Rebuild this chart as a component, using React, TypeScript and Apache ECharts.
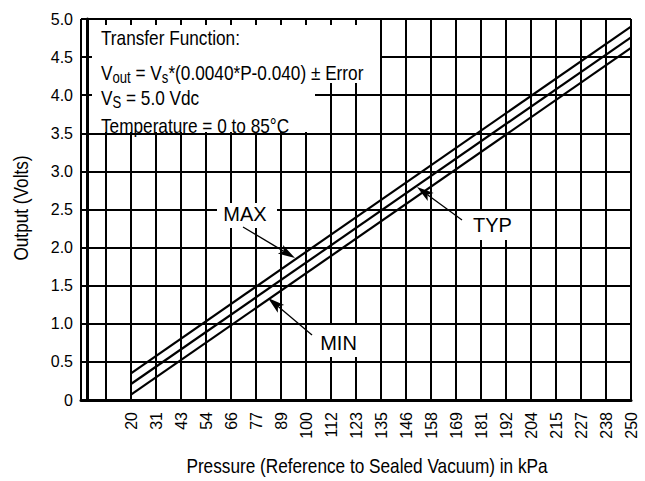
import React, { useEffect, useRef } from "react";
import * as echarts from "echarts";

// ---- data ----
const xTickLabels = ["20", "31", "43", "54", "66", "77", "89", "100", "112", "123", "135", "146", "158", "169", "181", "192", "204", "215", "227", "238", "250"];
const unlabeledLeadingTicks = ["", ""];
const pressure = [20, 250];
const maxOut = [0.35, 4.9];
const typOut = [0.21, 4.76];
const minOut = [0.07, 4.62];
const yMin = 0;
const yMax = 5;
const yStep = 0.5;
const xScaleMin = -3;
const xScaleMax = 250;

const xTitle = "Pressure (Reference to Sealed Vacuum) in kPa";
const yTitle = "Output (Volts)";
const boxLines = {
  l1: "Transfer Function:",
  l2: "{m|V}{s|out}{m| = V}{s|s}{m|*(0.0040*P-0.040) ± Error}",
  l3: "{m|V}{s|S}{m| = 5.0 Vdc}",
  l4: "Temperature = 0 to 85°C",
};

const SANS = "'Liberation Sans', Arial, sans-serif";
const NARROW_SCALE = 0.82;

function arrow(tail: number[], tip: number[]) {
  const dx = tip[0] - tail[0];
  const dy = tip[1] - tail[1];
  const len = Math.sqrt(dx * dx + dy * dy);
  const ux = dx / len, uy = dy / len;
  const px = -uy, py = ux;
  const hl = 17, hw = 5, notch = 4;
  const bx = tip[0] - ux * hl, by = tip[1] - uy * hl;
  const nx = tip[0] - ux * (hl - notch), ny = tip[1] - uy * (hl - notch);
  return [
    {
      type: "line", z: 60,
      shape: { x1: tail[0], y1: tail[1], x2: nx, y2: ny },
      style: { stroke: "#000", lineWidth: 1.3 },
    },
    {
      type: "polygon", z: 60,
      shape: { points: [tip, [bx + px * hw, by + py * hw], [nx, ny], [bx - px * hw, by - py * hw]] },
      style: { fill: "#000" },
    },
  ];
}

export default function App() {
  const ref = useRef<HTMLDivElement>(null);
  useEffect(() => {
    const chart = echarts.init(ref.current!, null, { renderer: "svg" });
    const mk = (vals: number[]) => pressure.map((p, i) => [p, vals[i]]);
    const lineSeries = (name: string, vals: number[]) => ({
      name, type: "line", xAxisIndex: 1, yAxisIndex: 0, data: mk(vals),
      symbol: "none", lineStyle: { color: "#000", width: 2.2 }, z: 5,
    });
    const mainStyle = { font: `21px ${SANS}`, lineHeight: 26, verticalAlign: "middle" };
    const subStyle = { font: `16px ${SANS}`, lineHeight: 26, verticalAlign: "bottom" };
    const narrowText = (x: number, y: number, style: any, extra: any = {}) => ({
      type: "text", z: 55, x, y, scaleX: NARROW_SCALE, ...extra,
      style: { fill: "#000", verticalAlign: "middle", font: `21px ${SANS}`, ...style },
    });
    chart.setOption({
      animation: false,
      backgroundColor: "#fff",
      grid: { left: 81, right: 14, top: 19, bottom: 81, containLabel: false },
      xAxis: [
        {
          type: "category",
          data: [...unlabeledLeadingTicks, ...xTickLabels],
          boundaryGap: false,
          axisLine: { show: true, lineStyle: { color: "#000", width: 3 } },
          axisTick: { show: false },
          axisLabel: { interval: 0, rotate: 90, margin: 12, color: "#000", fontSize: 16, fontFamily: SANS },
          splitLine: { show: true, interval: 0, lineStyle: { color: "#000", width: 2 } },
        },
        { type: "value", min: xScaleMin, max: xScaleMax, show: false },
      ],
      yAxis: {
        type: "value", min: yMin, max: yMax, interval: yStep,
        axisLine: { show: true, lineStyle: { color: "#000", width: 3 } },
        axisTick: { show: false },
        axisLabel: {
          margin: 8, color: "#000", fontSize: 16, fontFamily: SANS,
          formatter: (v: number) => (v === 0 ? "0" : v.toFixed(1)),
        },
        splitLine: { show: true, lineStyle: { color: "#000", width: 2 } },
      },
      series: [lineSeries("MAX", maxOut), lineSeries("TYP", typOut), lineSeries("MIN", minOut)],
      graphic: [
        { type: "rect", z: 50, shape: { x: 92, y: 25, width: 288, height: 58 }, style: { fill: "#fff" } },
        { type: "rect", z: 50, shape: { x: 92, y: 83, width: 223, height: 49 }, style: { fill: "#fff" } },
        narrowText(101, 38.3, { text: boxLines.l1 }),
        narrowText(101, 72.6, { text: boxLines.l2, rich: { m: mainStyle, s: subStyle } }),
        narrowText(101, 97.5, { text: boxLines.l3, rich: { m: mainStyle, s: subStyle } }),
        narrowText(101, 125.6, { text: boxLines.l4 }),
        narrowText(367, 465.5, { text: xTitle, align: "center" }),
        narrowText(21, 208, { text: yTitle, align: "center" }, { rotation: Math.PI / 2 }),
        { type: "rect", z: 50, shape: { x: 217, y: 203, width: 60, height: 25 }, style: { fill: "#fff" } },
        { type: "rect", z: 50, shape: { x: 313, y: 325, width: 52, height: 32 }, style: { fill: "#fff" } },
        { type: "rect", z: 50, shape: { x: 470, y: 211, width: 50, height: 29 }, style: { fill: "#fff" } },
        { type: "text", z: 55, x: 245, y: 214, style: { text: "MAX", font: `20px ${SANS}`, fill: "#000", align: "center", verticalAlign: "middle" } },
        { type: "text", z: 55, x: 338.5, y: 342.5, style: { text: "MIN", font: `20px ${SANS}`, fill: "#000", align: "center", verticalAlign: "middle" } },
        { type: "text", z: 55, x: 492.5, y: 224.5, style: { text: "TYP", font: `20px ${SANS}`, fill: "#000", align: "center", verticalAlign: "middle" } },
        ...arrow([243, 227], [295, 258]),
        ...arrow([312, 335], [268, 298]),
        ...arrow([462, 220], [417, 187]),
      ],
    });
    return () => chart.dispose();
  }, []);
  return <div ref={ref} style={{ width: 645, height: 481, position: "absolute", left: 0, top: 0 }} />;
}
